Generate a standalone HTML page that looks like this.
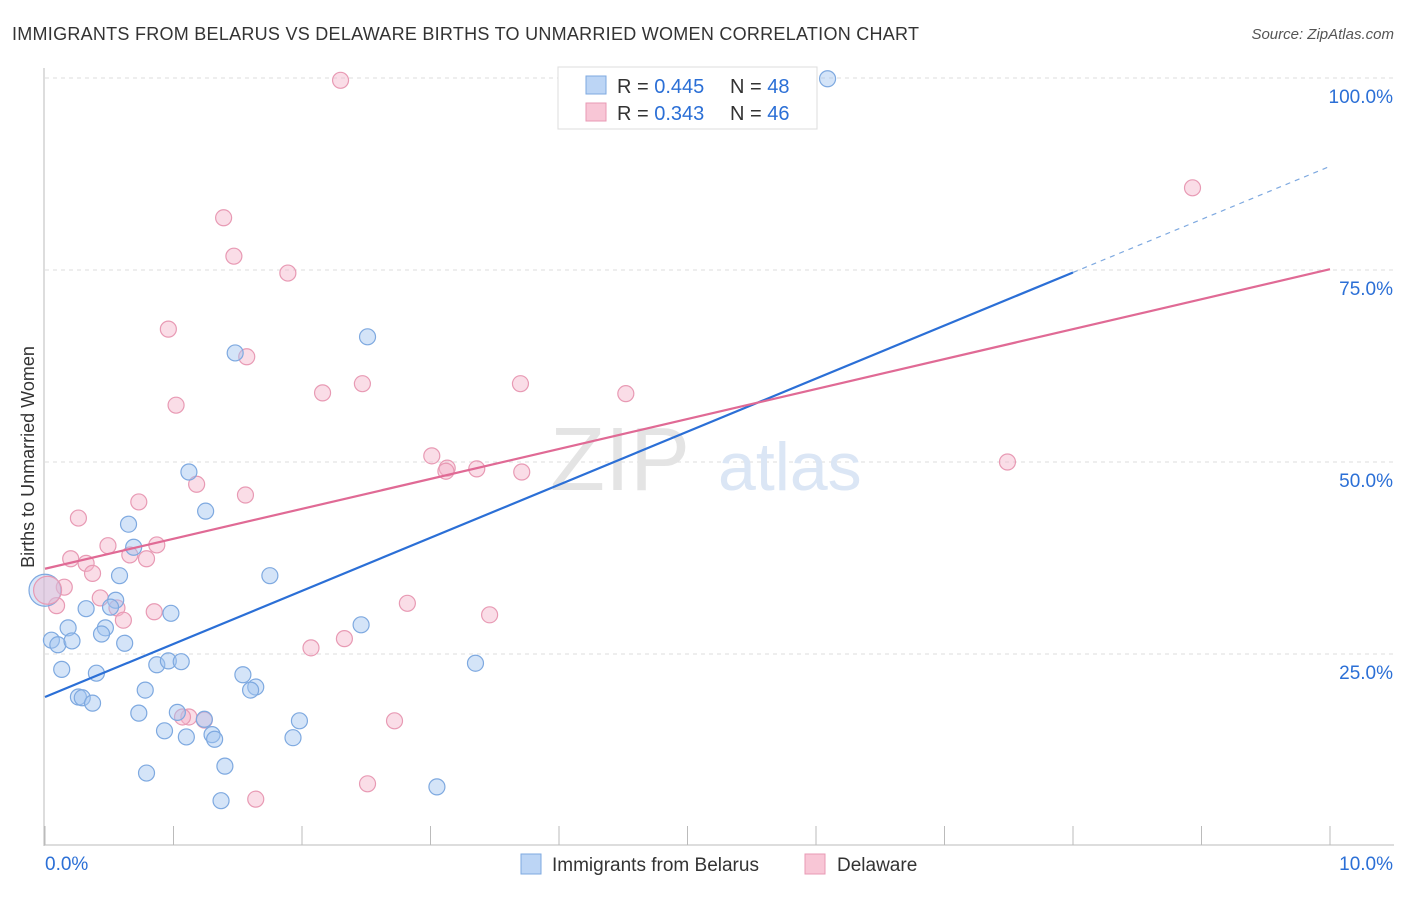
<!DOCTYPE html>
<html><head><meta charset="utf-8">
<style>
body{margin:0;background:#fff;font-family:"Liberation Sans",sans-serif;}
svg text{font-family:"Liberation Sans",sans-serif;}
</style></head>
<body>
<svg width="1406" height="892">
<text x="12" y="40" font-size="18" fill="#333" textLength="907">IMMIGRANTS FROM BELARUS VS DELAWARE BIRTHS TO UNMARRIED WOMEN CORRELATION CHART</text>
<text x="1394" y="39" font-size="15" fill="#555" text-anchor="end" font-style="italic">Source: ZipAtlas.com</text>
<g id="grid"></g>
<text x="690" y="490" font-size="90" fill="#e4e4e4" text-anchor="end" font-family="Liberation Serif">ZIP</text>
<text x="718" y="490" font-size="68" fill="#dbe6f5">atlas</text>
<g id="axes"></g>
<g id="marks"></g>
<text transform="translate(34,457) rotate(-90)" font-size="18" fill="#333" text-anchor="middle">Births to Unmarried Women</text>
<g>
<rect x="558" y="67" width="259" height="62" fill="#fff" stroke="#ddd"/>
<rect x="586" y="76" width="20" height="18" fill="#bcd5f5" stroke="#7ea9e0"/>
<rect x="586" y="103" width="20" height="18" fill="#f8c6d6" stroke="#e89ab4"/>
<text x="617" y="93" font-size="20" fill="#333">R = <tspan fill="#2b6fd6">0.445</tspan><tspan x="730">N = </tspan><tspan fill="#2b6fd6">48</tspan></text>
<text x="617" y="120" font-size="20" fill="#333">R = <tspan fill="#2b6fd6">0.343</tspan><tspan x="730">N = </tspan><tspan fill="#2b6fd6">46</tspan></text>
</g>
<g>
<rect x="521" y="854" width="20" height="20" fill="#bcd5f5" stroke="#7ea9e0"/>
<text x="552" y="871" font-size="19" fill="#333">Immigrants from Belarus</text>
<rect x="805" y="854" width="20" height="20" fill="#f8c6d6" stroke="#e89ab4"/>
<text x="837" y="871" font-size="19" fill="#333">Delaware</text>
</g>
</svg>
<script>
const blueX=[6.09,2.51,1.48,1.12,1.25,0.65,0.69,1.75,0.58,0.55,0.51,0.32,0.98,0.18,0.47,0.44,0.62,0.05,0.10,0.21,2.46,0.13,0.40,0.87,0.96,1.06,3.35,1.54,1.64,1.60,0.78,0.26,0.29,0.37,0.73,1.03,1.24,1.98,0.93,1.10,1.30,1.32,1.93,1.40,0.79,3.05,1.37];
const blueY=[99.9,66.3,64.2,48.7,43.6,41.9,38.9,35.2,35.2,32.0,31.1,30.9,30.3,28.4,28.4,27.6,26.4,26.8,26.2,26.7,28.8,23.0,22.5,23.6,24.1,24.0,23.8,22.3,20.7,20.3,20.3,19.4,19.3,18.6,17.3,17.4,16.5,16.3,15.0,14.2,14.5,13.9,14.1,10.4,9.5,7.7,5.9];
const pinkX=[2.30,8.93,1.39,1.47,1.89,0.96,1.57,1.02,2.16,2.47,3.70,4.52,3.01,3.13,3.12,3.36,3.71,7.49,1.18,1.56,0.73,0.26,0.49,0.87,0.20,0.32,0.79,0.66,0.37,0.15,0.09,0.43,0.56,0.85,0.61,2.82,3.46,2.33,2.07,1.12,1.24,2.72,2.51,1.64,1.07];
const pinkY=[99.7,85.7,81.8,76.8,74.6,67.3,63.7,57.4,59.0,60.2,60.2,58.9,50.8,49.2,48.8,49.1,48.7,50.0,47.1,45.7,44.8,42.7,39.1,39.2,37.4,36.8,37.4,37.9,35.5,33.7,31.3,32.3,31.0,30.5,29.4,31.6,30.1,27.0,25.8,16.8,16.4,16.3,8.1,6.1,16.8];
const bigX=[0.0,0.02], bigY=[33.3,33.3];
const yTicks=[25,50,75,100], yTickLabels=["25.0%","50.0%","75.0%","100.0%"];
const blueLine=[19.4,88.5], pinkLine=[36.1,75.1];
const sx=v=>45+v*128.5, sy=v=>846-v*7.68;
const NS="http://www.w3.org/2000/svg";
function mk(t,a,p){const e=document.createElementNS(NS,t);for(const k in a)e.setAttribute(k,a[k]);p.appendChild(e);return e;}
const grid=document.getElementById('grid'),axes=document.getElementById('axes'),marks=document.getElementById('marks');
yTicks.forEach((t,i)=>{const l=mk('line',{x1:45,x2:1394,y1:sy(t),y2:sy(t),stroke:'#ddd','stroke-dasharray':'4,4'},grid);


const tx=mk('text',{x:1393,y:sy(t)+25,'font-size':19,fill:'#2b6fd6','text-anchor':'end'},axes);tx.textContent=yTickLabels[i];

});
let g0=mk('line',{x1:45,x2:1394,y1:78,y2:78,stroke:'#ddd','stroke-dasharray':'4,4'},grid);


let ax=mk('line',{x1:44,x2:44,y1:68,y2:846,stroke:'#bbb'},axes);


let bx=mk('line',{x1:44,x2:1394,y1:845,y2:845,stroke:'#bbb'},axes);


for(let i=0;i<=10;i++){const t=mk('line',{x1:sx(i),x2:sx(i),y1:826,y2:845,stroke:'#bbb'},axes);

}
const xl0=mk('text',{x:45,y:870,'font-size':19,fill:'#2b6fd6'},axes);xl0.textContent='0.0%';


const xl1=mk('text',{x:1393,y:870,'font-size':19,fill:'#2b6fd6','text-anchor':'end'},axes);xl1.textContent='10.0%';


function dot(x,y,r,f,s,n){const c=mk('circle',{cx:sx(x),cy:sy(y),r:r,fill:f,stroke:s,'stroke-width':1.2},marks);

}
pinkX.forEach((x,i)=>dot(x,pinkY[i],8,'rgba(244,180,202,0.45)','#e89ab4','point-delaware'));
blueX.forEach((x,i)=>dot(x,blueY[i],8,'rgba(160,196,240,0.45)','#7ea9e0','point-belarus'));
dot(bigX[0],bigY[0],16,'rgba(160,196,240,0.4)','#7ea9e0','point-belarus-large');
dot(bigX[1],bigY[1],14,'rgba(244,180,202,0.4)','#e89ab4','point-delaware-large');
const bAt=x=>blueLine[0]+(blueLine[1]-blueLine[0])*x/10, pAt=x=>pinkLine[0]+(pinkLine[1]-pinkLine[0])*x/10;
let l1=mk('line',{x1:sx(0),y1:sy(bAt(0)),x2:sx(8),y2:sy(bAt(8)),stroke:'#2b6fd6','stroke-width':2.2},marks);


let l2=mk('line',{x1:sx(8),y1:sy(bAt(8)),x2:sx(10),y2:sy(bAt(10)),stroke:'#7ea9e0','stroke-width':1.2,'stroke-dasharray':'5,5'},marks);


let l3=mk('line',{x1:sx(0),y1:sy(pAt(0)),x2:sx(10),y2:sy(pAt(10)),stroke:'#e06a95','stroke-width':2.2},marks);


</script>
</body></html>
